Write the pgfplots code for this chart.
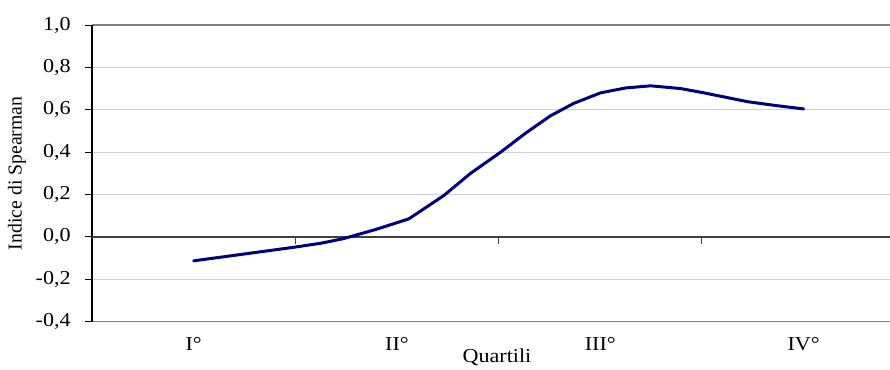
\documentclass[border=0pt]{standalone}
\usepackage{fontspec}
\setmainfont{Liberation Serif}
\usepackage{pgfplots}
\pgfplotsset{compat=1.18}
\definecolor{navyline}{RGB}{0,0,128}
\begin{document}
\fontsize{14.8}{17}\selectfont
\begin{tikzpicture}
\begin{axis}[
  scale only axis, width=598.5pt, height=222.5pt,
  xmin=-0.5, xmax=3.425, ymin=-0.4, ymax=1.0,
  axis x line*=box, axis y line*=left,
  x axis line style={draw=black!50, line width=1.1pt},
  y axis line style={draw=black, line width=0.9pt},
  xtick={0,1,2,3}, xticklabels={I°,II°,III°,IV°},
  xtick style={draw=none},
  xticklabel style={anchor=base, yshift=-16.5pt, xscale=1.12},
  ytick={-0.4,-0.2,0,0.2,0.4,0.6,0.8,1.0},
  ytick style={draw=black, line width=0.75pt},
  tick align=outside, major tick length=5.25pt,
  yticklabel style={xshift=-5pt, xscale=1.12, /pgf/number format/.cd, use comma, fixed, fixed zerofill, precision=1, assume math mode=true},
  ymajorgrids, major grid style={draw=black!18, line width=0.75pt},
  xlabel={Quartili}, ylabel={Indice di Spearman},
  xlabel style={at={(axis description cs:0.5075,-0.139)}, anchor=base, xscale=1.12},
  ylabel style={at={(axis description cs:-0.094,0.5)}, anchor=center, rotate=0},
]
\draw[black!75, line width=1pt] (axis cs:-0.5,0) -- (axis cs:3.425,0);
\draw[black!75, line width=0.75pt] (axis cs:0.5,0) -- ++(0pt,-5.25pt);
\draw[black!75, line width=0.75pt] (axis cs:1.5,0) -- ++(0pt,-5.25pt);
\draw[black!75, line width=0.75pt] (axis cs:2.5,0) -- ++(0pt,-5.25pt);
\addplot[color=navyline, line width=2.25pt, mark=none, line join=round, line cap=round] coordinates {
(0.000,-0.113)
(0.246,-0.081)
(0.492,-0.049)
(0.625,-0.030)
(0.738,-0.008)
(0.895,0.035)
(1.058,0.085)
(1.230,0.195)
(1.362,0.300)
(1.510,0.400)
(1.633,0.490)
(1.756,0.572)
(1.869,0.630)
(2.002,0.680)
(2.125,0.703)
(2.248,0.713)
(2.396,0.700)
(2.509,0.680)
(2.725,0.638)
(2.863,0.620)
(3.000,0.604)
};
\coordinate (sw) at (rel axis cs:0,0);
\coordinate (ne) at (rel axis cs:1,1);
\end{axis}
\pgfresetboundingbox
\useasboundingbox ([xshift=-69pt,yshift=-35.5pt]sw) rectangle ([yshift=18.75pt]ne);
\end{tikzpicture}
\end{document}
